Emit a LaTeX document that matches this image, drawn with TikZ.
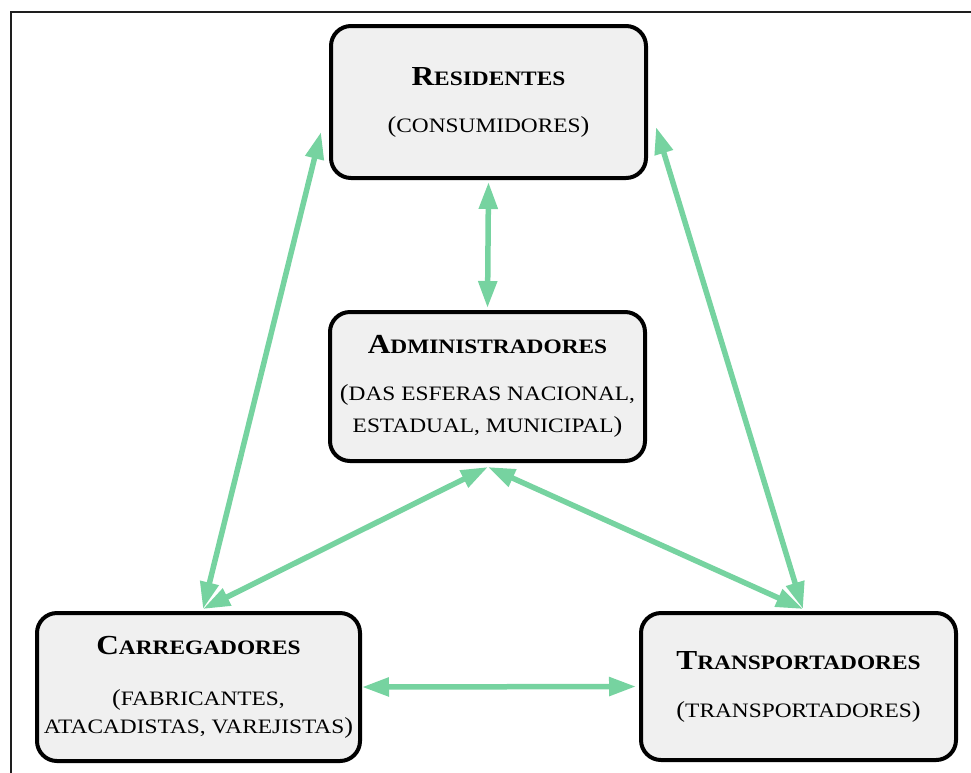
\documentclass[tikz,border=0pt]{standalone}
\usepackage{fontspec}
\setmainfont{Liberation Serif}[FakeStretch=1.14]
\usetikzlibrary{arrows.meta,calc}

\definecolor{linkgreen}{RGB}{118,211,160}
\definecolor{boxfill}{RGB}{240,240,240}
\definecolor{framegray}{RGB}{30,30,30}

% large initial letter of a small-caps title, and full-size parentheses
\newcommand\initcap[1]{{\fontsize{27.5pt}{30pt}\selectfont #1}}
\newcommand\fullparen[1]{{\fontsize{23pt}{30pt}\selectfont #1}}

\tikzset{
  actor/.style={draw=black, line width=4pt, fill=boxfill, rounded corners=20pt,
    align=center, inner sep=0pt, text=black,
    font=\fontsize{20.5pt}{30pt}\selectfont},
  link/.style={draw=linkgreen, line width=5.5pt,
    {Triangle[length=27pt,width=18pt]}-{Triangle[length=27pt,width=18pt]}},
  frameline/.style={draw=framegray, line width=2pt}
}

\begin{document}
\begin{tikzpicture}[x=1pt,y=1pt]
  \useasboundingbox (0,0) rectangle (971,-772);
  \clip (0,0) rectangle (971,-772);

  % outer frame
  \draw[frameline] (10.5,-800) -- (10.5,-11.5) -- (1000,-11.5);

  % the four actors
  \node[actor, minimum width=315pt, minimum height=152pt] (R) at (488.5,-102)
    {\textbf{\initcap{R}ESIDENTES}\\[17pt]
     \fullparen{(}CONSUMIDORES\fullparen{)}};
  \node[actor, minimum width=315pt, minimum height=149pt] (A) at (487.5,-386.5)
    {\textbf{\initcap{A}DMINISTRADORES}\\[17pt]
     \fullparen{(}DAS ESFERAS NACIONAL,\\[2pt]
     ESTADUAL, MUNICIPAL\fullparen{)}};
  \node[actor, minimum width=323pt, minimum height=148pt] (C) at (198.5,-687)
    {\textbf{\initcap{C}ARREGADORES}\\[21pt]
     \fullparen{(}FABRICANTES,\\[-2pt]
     ATACADISTAS, VAREJISTAS\fullparen{)}};
  \node[actor, minimum width=315pt, minimum height=147pt] (T) at (798.5,-686.5)
    {\textbf{\initcap{T}RANSPORTADORES}\\[18pt]
     \fullparen{(}TRANSPORTADORES\fullparen{)}};

  % attachment points of the connectors
  \coordinate (rBot) at ($(R.south)+(0,-2)$);
  \coordinate (aTop) at ($(A.north)+(0,2)$);
  \coordinate (rLeft) at ($(R.west)+(-8,-30)$);
  \coordinate (rRight) at ($(R.east)+(8,-25)$);
  \coordinate (aBot) at ($(A.south)+(0.5,-4)$);
  \coordinate (cTop) at ($(C.north)+(4.5,2)$);
  \coordinate (tTop) at ($(T.north)+(4.5,2)$);
  \coordinate (cRight) at (C.east);
  \coordinate (tLeft) at ($(T.west)+(-3,0)$);

  % two-way relations
  \draw[link] (rBot) -- (aTop);
  \draw[link] (rLeft) -- (cTop);
  \draw[link] (rRight) -- (tTop);
  \draw[link] (aBot) -- (cTop);
  \draw[link] (aBot) -- (tTop);
  \draw[link] (cRight) -- (tLeft);
\end{tikzpicture}
\end{document}
